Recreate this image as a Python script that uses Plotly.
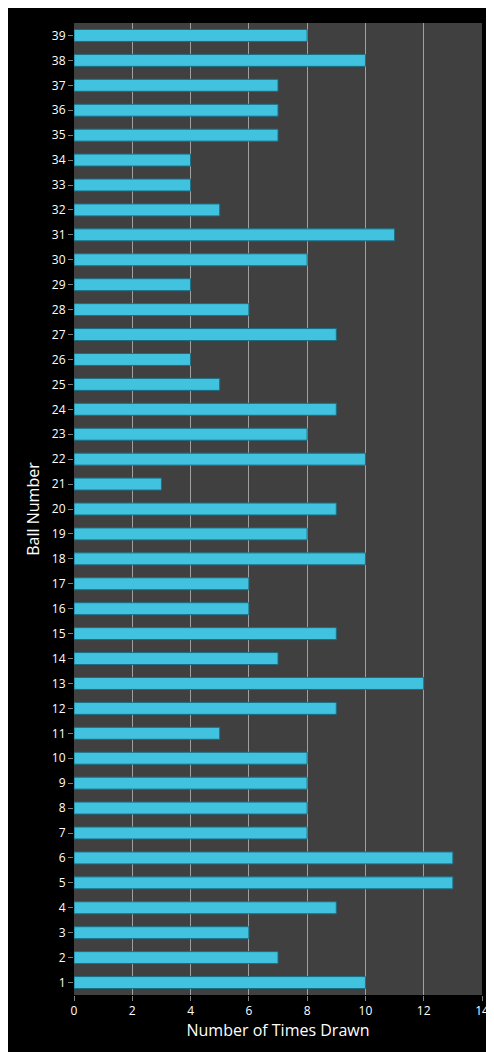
import plotly.graph_objects as go

balls = [str(i) for i in range(1, 40)]
times = [10, 7, 6, 9, 13, 13, 8, 8, 8, 8,
         5, 9, 12, 7, 9, 6, 6, 10, 8, 9,
         3, 10, 8, 9, 5, 4, 9, 6, 4, 8,
         11, 5, 4, 4, 7, 7, 7, 10, 8]

fig = go.Figure(go.Bar(
    x=times, y=balls, orientation='h',
    marker=dict(color='#41c3e0', line=dict(color='#1a6f85', width=1)),
))

fig.update_layout(
    width=494, height=1052,
    paper_bgcolor='black', plot_bgcolor='#404040',
    margin=dict(l=66, r=20, t=15, b=65),
    bargap=0.52,
    font=dict(family='Open Sans, sans-serif', color='white', size=12),
    showlegend=False,
    xaxis=dict(range=[0, 14], dtick=2, showgrid=True, gridcolor='#a0a0a0',
               gridwidth=1, zeroline=False, ticks='outside', tickcolor='#808080',
               title=dict(text='Number of Times Drawn', font=dict(size=16), standoff=6)),
    yaxis=dict(type='category', showgrid=False, ticks='outside', tickcolor='#808080',
               title=dict(text='Ball Number', font=dict(size=16), standoff=8)),
)

fig.write_html("out.html")
